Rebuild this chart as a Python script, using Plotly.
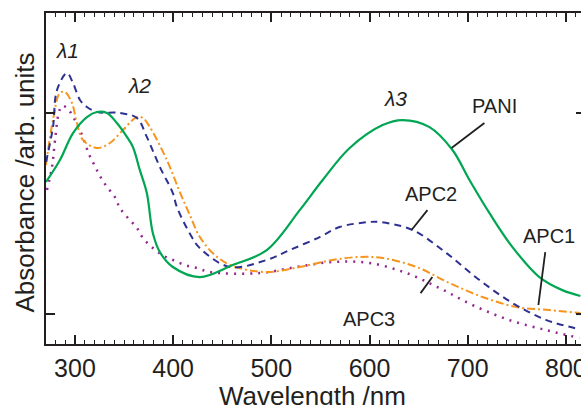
import plotly.graph_objects as go

# wavelength (nm) / absorbance (arb. units)
pani_x = [270.5, 284.7, 298, 312.2, 322.4, 332.6, 342.7, 352.9, 359, 366.1, 373.2, 379.3, 386.5,
          399.7, 427.2, 460.7, 495.3, 528.9, 552.3, 579.8, 613.3, 633.7, 661.1, 684.5, 701.8,
          722.2, 745.6, 773, 796.4, 814.8]
pani_y = [0.657, 0.766, 0.900, 0.980, 1.005, 1.000, 0.950, 0.881, 0.831, 0.716, 0.602, 0.403, 0.308,
          0.234, 0.184, 0.244, 0.318, 0.517, 0.667, 0.826, 0.940, 0.965, 0.930, 0.816, 0.667,
          0.502, 0.333, 0.184, 0.119, 0.090]

apc2_x = [270.5, 277.6, 281.7, 291.9, 298, 305.1, 312.2, 322.4, 345.8, 363.1, 373.2, 386.5, 399.7,
          403.8, 419, 427.2, 457.7, 495.3, 518.7, 549.2, 569.6, 600.1, 610.3, 643.8, 678.4,
          712, 745.6, 780.2, 813.7]
apc2_y = [0.756, 0.930, 1.114, 1.199, 1.149, 1.065, 1.030, 1.005, 1.000, 0.975, 0.881, 0.731, 0.602,
          0.532, 0.383, 0.328, 0.234, 0.269, 0.318, 0.383, 0.433, 0.458, 0.458, 0.418, 0.303,
          0.169, 0.055, -0.030, -0.075]

apc1_x = [270.5, 277.6, 284.7, 289.8, 296.9, 302, 308.1, 322.4, 335.6, 348.8, 363.1, 369.2, 376.3,
          393.6, 406.8, 417, 427.2, 442.4, 460.7, 495.3, 528.9, 562.5, 589.9, 613.3, 647.9,
          681.5, 715, 749.6, 783.2, 814.8]
apc1_y = [0.741, 0.965, 1.100, 1.104, 1.050, 0.950, 0.866, 0.826, 0.851, 0.915, 0.980, 0.975, 0.930,
          0.766, 0.607, 0.493, 0.383, 0.294, 0.239, 0.209, 0.234, 0.269, 0.284, 0.279, 0.234,
          0.154, 0.085, 0.035, 0.020, 0.005]

apc3_x = [271.5, 276.6, 279.7, 283.7, 286.8, 291.9, 300, 307.1, 314.2, 320.3, 325.4, 332.6, 340.7,
          345.8, 353.9, 363.1, 369.2, 378.3, 388.5, 399.7, 411.9, 424.1, 437.3, 488.2, 525.8,
          562.5, 600.1, 637.7, 671.3, 704.9, 742.5, 780.2, 813.7]
apc3_y = [0.617, 0.731, 0.866, 1.005, 1.035, 1.025, 0.965, 0.891, 0.796, 0.736, 0.687, 0.632, 0.582,
          0.527, 0.478, 0.428, 0.378, 0.333, 0.294, 0.269, 0.244, 0.229, 0.209, 0.204, 0.234,
          0.259, 0.254, 0.204, 0.129, 0.045, -0.030, -0.080, -0.119]

INK = '#231f20'
FONT = 'Liberation Sans, Arial, sans-serif'

fig = go.Figure()
fig.add_trace(go.Scatter(x=apc3_x, y=apc3_y, mode='lines', line_shape='spline',
                         line=dict(color='#92278f', width=2.5, dash='2px,6px')))
fig.add_trace(go.Scatter(x=apc1_x, y=apc1_y, mode='lines', line_shape='spline',
                         line=dict(color='#f7941d', width=2, dash='8px,3px,2px,3px')))
fig.add_trace(go.Scatter(x=apc2_x, y=apc2_y, mode='lines', line_shape='spline',
                         line=dict(color='#2e3192', width=2, dash='7px,5px')))
fig.add_trace(go.Scatter(x=pani_x, y=pani_y, mode='lines', line_shape='spline',
                         line=dict(color='#00a651', width=2.2)))

# leader lines
leaders = [(683.5, 0.826, 717, 0.950), (642.8, 0.418, 659, 0.517),
           (772, 0.045, 779, 0.308), (652, 0.104, 664, 0.184)]
for x0, y0, x1, y1 in leaders:
    fig.add_shape(type='line', x0=x0, y0=y0, x1=x1, y1=y1, line=dict(color=INK, width=1.8))

# right-hand ticks of the (cropped) frame
for yv in [0, 1]:
    fig.add_shape(type='line', xref='paper', yref='y', x0=1 - 5 / 535, x1=1, y0=yv, y1=yv,
                  line=dict(color=INK, width=2))

labels = [('PANI', 727.3, 1.035), ('APC2', 662.2, 0.597), ('APC1', 783.2, 0.388), ('APC3', 599.6, -0.027)]
for t, x, y in labels:
    fig.add_annotation(x=x, y=y, text=t, showarrow=False, font=dict(size=20, color=INK, family=FONT))

lams = [('λ1', 292.9, 1.313), ('λ2', 365.6, 1.139), ('λ3', 626, 1.070)]
for t, x, y in lams:
    fig.add_annotation(x=x, y=y, text='<i>' + t + '</i>', showarrow=False,
                       font=dict(size=21, color=INK, family=FONT))

fig.add_annotation(xref='paper', yref='paper', x=-0.039, y=0.488, xanchor='center', yanchor='middle',
                   text='Absorbance /arb. units', textangle=-90, showarrow=False,
                   font=dict(size=26, color=INK, family=FONT))
fig.add_annotation(xref='paper', yref='paper', x=0.498, y=-0.105, xanchor='center', yanchor='top',
                   text='Wavelength /nm', showarrow=False, font=dict(size=26, color=INK, family=FONT))

fig.update_layout(
    width=581, height=405,
    margin=dict(l=46, r=0, t=13, b=61),
    template='none',
    showlegend=False,
    paper_bgcolor='white', plot_bgcolor='white',
    font=dict(family=FONT, color=INK),
    xaxis=dict(range=[270.5, 815.4], showgrid=False, zeroline=False, automargin=False,
               showline=True, linecolor=INK, linewidth=2, mirror='ticks',
               ticks='inside', ticklen=9, tickwidth=1.5, tickcolor=INK,
               tickvals=[300, 400, 500, 600, 700, 800], ticklabelstandoff=1,
               ticklabeloverflow='allow',
               tickfont=dict(size=25, color=INK, family=FONT),
               minor=dict(dtick=10, ticks='inside', ticklen=4, tickwidth=1.2, tickcolor=INK, showgrid=False)),
    yaxis=dict(range=[-0.149, 1.4975], showgrid=False, zeroline=False, automargin=False,
               showline=True, linecolor=INK, linewidth=2,
               ticks='inside', ticklen=9, tickwidth=1.5, tickcolor=INK,
               tickvals=[0, 1], showticklabels=False),
)

fig.write_html("out.html", config={'displayModeBar': False},
               post_script="document.body.style.margin='0';")
